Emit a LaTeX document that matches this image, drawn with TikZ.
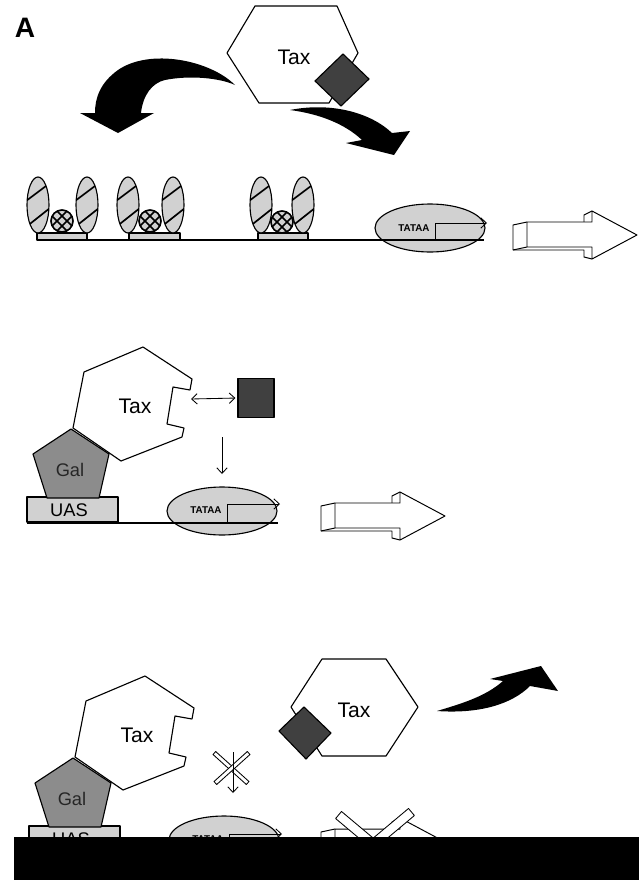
\documentclass[tikz,border=0pt]{standalone}
\usepackage{fontspec}
\setmainfont{Liberation Sans}
\usetikzlibrary{shapes.geometric,arrows.meta}

\begin{document}
\begin{tikzpicture}[x=0.25mm, y=-0.25mm, line join=round,
  >={Straight Barb[length=1.4mm,width=2.6mm]},
  rim/.style = {draw, line width=0.8pt},
  stipple/.style = {fill=black!18},
  hatch/.style = {line width=1.2pt},
  thinarrow/.style = {line width=0.6pt},
  taxfont/.style = {font=\fontsize{15}{15}\selectfont},
  boxfont/.style = {font=\fontsize{13}{13}\selectfont},
  tatafont/.style = {font=\fontsize{7}{7}\selectfont\bfseries, inner sep=0},
  tss/.style = {rim, stipple, ellipse, minimum width=27.5mm, minimum height=12mm, inner sep=0},
  xbar/.style = {draw, line width=0.6pt, fill=white, inner sep=0},
  blockarrow/.pic = {
    \draw[line width=0.7pt] (0,0) -- (-14,3) -- (-14,28) -- (57,28) -- (57,35) -- (65,37);
    \draw[line width=0.7pt] (0,25) -- (-14,28);
    \draw[line width=0.7pt] (65,-11) -- (57,-7) -- (57,0);
    \draw[line width=0.7pt, fill=white] (0,0) -- (65,0) -- (65,-11) -- (110,13) -- (65,37) -- (65,25) -- (0,25) -- cycle;
  },
  taxgal/.pic = {
    \draw[rim, fill=white] (143,347) -- (192,379) -- (190,390) -- (173,387) -- (167,424) -- (184,428)
      -- (182,437) -- (121,461) -- (73,428) -- (84,372) -- cycle;
    \node[taxfont] (-tax) at (135,406) {Tax};
    \draw[rim, stipple] (27,497) rectangle (118,522);
    \node[boxfont] (-uas) at (69,510) {UAS};
    \draw[rim, fill=black!45] (71,429) -- (109,454) -- (99,498) -- (47,498) -- (33,454) -- cycle;
    \node[boxfont, text=black!85] (-gal) at (70,470) {Gal};
  }]
\useasboundingbox (0,0) rectangle (639,880);

\node[font=\fontsize{20}{20}\selectfont\bfseries] (panelA) at (25,28) {A};

% free Tax carrying its partner
\draw[rim, fill=white] (255,6) -- (337,6) -- (358,53) -- (329,103) -- (259,103) -- (227,53) -- cycle;
\node[taxfont] (tax1) at (294,57) {Tax};
\draw[rim, fill=black!75] (343,54) -- (369,79) -- (341,106) -- (315,81) -- cycle;

% the two bent black arrows
\fill (235,85) .. controls (210,60) and (150,48) .. (118,70) .. controls (100,83) and (95,98) .. (95,113)
  -- (80,113) -- (118,133) -- (154,113) -- (141,113) .. controls (143,95) and (152,83) .. (165,80)
  .. controls (190,75) and (220,78) .. (235,85) -- cycle;
\fill (290,110) .. controls (330,102) and (370,112) .. (392,133) -- (410,131) -- (394,155) -- (346,143)
  -- (362,140) .. controls (345,124) and (320,114) .. (290,110) -- cycle;

% repeats with bound factors
\foreach \a/\b in {37/87, 129/180, 258/308}
  \draw[rim, stipple] (\a,233) rectangle (\b,240);
\foreach \x in {38,87,128,173,261,303} {
  \draw[rim, stipple] (\x,205) ellipse [x radius=11, y radius=28];
  \begin{scope}
    \clip (\x,205) ellipse [x radius=11, y radius=28];
    \draw[hatch] (\x-12,201) -- (\x+12,183);
    \draw[hatch] (\x-12,227) -- (\x+12,208);
  \end{scope}
}
\foreach \x/\y in {62/221, 150/221, 282/222} {
  \draw[rim, stipple] (\x,\y) circle [radius=11];
  \begin{scope}
    \clip (\x,\y) circle [radius=11];
    \foreach \d in {-5,5} {
      \draw[hatch] (\x+\d-15,\y-15) -- (\x+\d+15,\y+15);
      \draw[hatch] (\x+\d-15,\y+15) -- (\x+\d+15,\y-15);
    }
  \end{scope}
  \draw[line width=1.1pt] (\x,\y) circle [radius=11];
}

\node[tss] (tss1) at (430,228) {};
\draw[line width=0.8pt] (37,240) -- (484,240);
\node[tatafont] (box1) at (414,228) {TATAA};
\draw[thinarrow, ->] (435,240) -- (435,223) -- (487,223);
\pic at (527,222) {blockarrow};

% Tax held at the UAS through Gal
\pic (left2) at (0,0) {taxgal};
\node[tss] (tss2) at (222,511) {};
\draw[line width=0.8pt] (27,523) -- (278,523);
\node[tatafont] (box2) at (206,510) {TATAA};
\draw[thinarrow, ->] (227,523) -- (227,504) -- (280,504);
\node[rim, fill=black!75, minimum width=9mm, minimum height=9.75mm, inner sep=0] (cofactor) at (256,398) {};
\coordinate (pocket) at (191,399);
\draw[thinarrow, <->, shorten >=0.5mm] (pocket) -- (cofactor.west);
\coordinate (drop2) at (222,437);
\coordinate (land2) at (222,474);
\draw[thinarrow, ->] (drop2) -- (land2);
\pic at (335,503) {blockarrow};

% partner taken away
\pic (left3) at (2,329) {taxgal};
\node[tss] (tss3) at (224,840) {};
\draw[line width=0.8pt] (29,852) -- (280,852);
\node[tatafont] (box3) at (208,839) {TATAA};
\draw[thinarrow, ->] (229,852) -- (229,834) -- (282,834);
\draw[rim, fill=white] (322,659) -- (386,659) -- (418,707) -- (386,756) -- (322,756) -- (291,707) -- cycle;
\node[taxfont] (tax3) at (354,710) {Tax};
\draw[rim, fill=black!75] (304,707) -- (331,733) -- (306,759) -- (279,731) -- cycle;
\fill (437,711) .. controls (460,704) and (485,697) .. (503,681) -- (490,679) -- (541,666) -- (558,691)
  -- (530,686) .. controls (512,704) and (480,714) .. (437,711) -- cycle;

\node[xbar, minimum width=11.2mm, minimum height=1mm, rotate=-42] (cross1) at (231,768) {};
\node[xbar, minimum width=11.2mm, minimum height=1mm, rotate=42] (cross2) at (232,768) {};
\coordinate (drop3) at (233,752);
\coordinate (land3) at (233,793);
\draw[thinarrow, ->] (drop3) -- (land3);

\pic at (335,829) {blockarrow};
\node[xbar, minimum width=14mm, minimum height=2.3mm, rotate=-40] (cross3) at (360,833) {};
\node[xbar, minimum width=14mm, minimum height=2.3mm, rotate=40] (cross4) at (390,830) {};

\fill (14,837) rectangle (639,880);
\end{tikzpicture}
\end{document}
